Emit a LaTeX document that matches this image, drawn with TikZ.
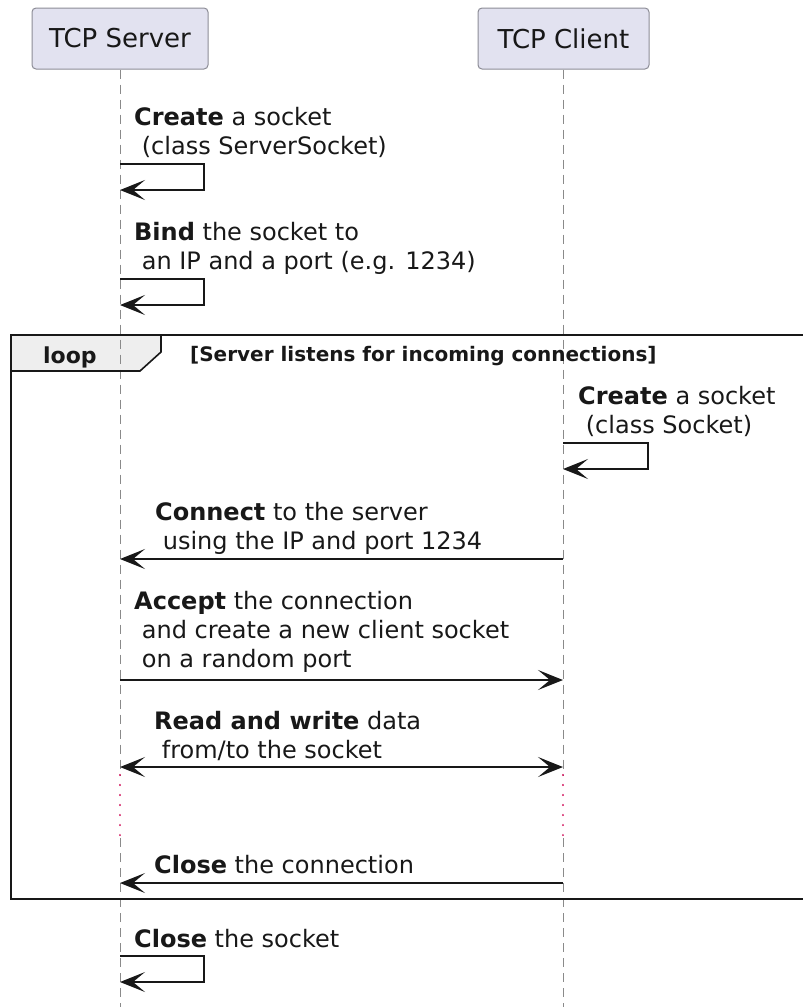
\documentclass[tikz,border=0pt]{standalone}
\usepackage{fontspec}
\setmainfont{DejaVu Sans}
\usetikzlibrary{arrows.meta}
\definecolor{boxfill}{HTML}{E2E2F0}
\definecolor{boxborder}{HTML}{8C8C96}
\definecolor{ink}{HTML}{181818}
\definecolor{lifegray}{HTML}{8A8A8A}
\definecolor{tabfill}{HTML}{EEEEEE}
\definecolor{delayred}{HTML}{D0105A}
\begin{document}
\begin{tikzpicture}[x=1pt,y=-1pt,
  participant/.style={draw=boxborder, fill=boxfill, rounded corners=4pt, line width=1pt,
    minimum height=61pt, inner sep=0pt, text=ink, font=\fontsize{26}{30}\selectfont},
  msg/.style={font=\fontsize{24}{29}\selectfont, align=left, anchor=base west, inner sep=0pt, text=ink},
  arr/.style={line width=1.4pt, draw=ink, -{Stealth[length=25pt,width=20pt,inset=12pt]}},
  darr/.style={line width=1.4pt, draw=ink, {Stealth[length=25pt,width=20pt,inset=12pt]}-{Stealth[length=25pt,width=20pt,inset=12pt]}},
  lifeline/.style={draw=lifegray, line width=1pt, dash pattern=on 9pt off 6pt},
  delayline/.style={draw=delayred, line width=2.2pt, line cap=round, dash pattern=on 0.01pt off 10pt},
  framebox/.style={draw=ink, line width=2.2pt},
]
\useasboundingbox (0,0) rectangle (803,1007);

% participants
\node[participant, minimum width=176pt] (srv) at (120,38.5) {TCP Server};
\node[participant, minimum width=171pt] (cli) at (563.5,38.5) {TCP Client};

% lifeline coordinates
\coordinate (srvD1) at (120,775);
\coordinate (srvD2) at (120,838);
\coordinate (srvEnd) at (120,1010);
\coordinate (cliD1) at (563,775);
\coordinate (cliD2) at (563,838);
\coordinate (cliEnd) at (563,1010);

% loop tab fill (under lifelines)
\fill[tabfill] (11,335) -- (161,335) -- (161,352) -- (140,371) -- (11,371) -- cycle;

% lifelines
\draw[lifeline] (srv.south) -- (srvD1);
\draw[delayline] (srvD1) -- (srvD2);
\draw[lifeline] (srvD2) -- (srvEnd);
\draw[lifeline] (cli.south -| cliD1) -- (cliD1);
\draw[delayline] (cliD1) -- (cliD2);
\draw[lifeline] (cliD2) -- (cliEnd);

% loop frame
\draw[framebox] (820,335) -- (11,335) -- (11,899) -- (820,899);
\draw[draw=ink, line width=1.6pt] (161,335) -- (161,352) -- (140,371) -- (11,371);
\node[anchor=base west, inner sep=0pt, text=ink, font=\fontsize{22}{26}\selectfont\bfseries] (looplbl) at (43,363) {loop};
\node[anchor=base west, inner sep=0pt, text=ink, font=\fontsize{20}{24}\selectfont\bfseries] (loopcond) at (190,361) {[Server listens for incoming connections]};

% 1. server create socket (anchor = baseline of last line)
\node[msg] (m1) at (134,154) {\textbf{Create} a socket\\\ (class ServerSocket)};
\coordinate (s1a) at (120,164);
\coordinate (s1b) at (120,190);
\draw[arr] (s1a) -- ++(84,0) |- (s1b);

% 2. bind
\node[msg] (m2) at (134,269) {\textbf{Bind} the socket to\\\ an IP and a port (e.g. 1234)};
\coordinate (s2a) at (120,279);
\coordinate (s2b) at (120,305);
\draw[arr] (s2a) -- ++(84,0) |- (s2b);

% 3. client create socket
\node[msg] (m3) at (578,433) {\textbf{Create} a socket\\\ (class Socket)};
\coordinate (c3a) at (563,443);
\coordinate (c3b) at (563,469);
\draw[arr] (c3a) -- ++(85,0) |- (c3b);

% 4. connect
\node[msg] (m4) at (155,549) {\textbf{Connect} to the server\\\ using the IP and port 1234};
\coordinate (c4) at (563,559);
\coordinate (s4) at (120,559);
\draw[arr] (c4) -- (s4);

% 5. accept
\node[msg] (m5) at (134,667) {\textbf{Accept} the connection\\\ and create a new client socket\\\ on a random port};
\coordinate (s5) at (120,680);
\coordinate (c5) at (563,680);
\draw[arr] (s5) -- (c5);

% 6. read/write
\node[msg] (m6) at (154,758) {\textbf{Read and write} data\\\ from/to the socket};
\coordinate (s6) at (120,767);
\coordinate (c6) at (563,767);
\draw[darr] (s6) -- (c6);

% 7. close connection
\node[msg] (m7) at (154,873) {\textbf{Close} the connection};
\coordinate (c7) at (563,883);
\coordinate (s7) at (120,883);
\draw[arr] (c7) -- (s7);

% 8. close socket
\node[msg] (m8) at (134,947) {\textbf{Close} the socket};
\coordinate (s8a) at (120,956);
\coordinate (s8b) at (120,982);
\draw[arr] (s8a) -- ++(84,0) |- (s8b);
\end{tikzpicture}
\end{document}
